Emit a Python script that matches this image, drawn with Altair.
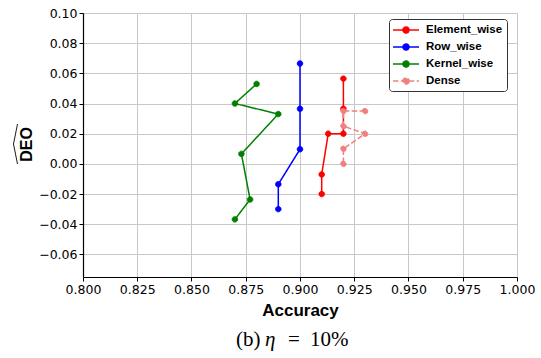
import altair as alt
import pandas as pd

# Series names and colours (legend order)
series_names = ["Element_wise", "Row_wise", "Kernel_wise", "Dense"]
series_colors = ["#ff0000", "#0000ff", "#008000", "#f08080"]
series_dash = [[1, 0], [1, 0], [1, 0], [5.5, 2.4]]

# Accuracy / DEO pairs for each pruning granularity
element_acc = [0.920, 0.920, 0.920, 0.913, 0.910, 0.910]
element_deo = [0.0565, 0.0365, 0.020, 0.020, -0.007, -0.020]

row_acc = [0.900, 0.900, 0.900, 0.890, 0.890]
row_deo = [0.0665, 0.0365, 0.0097, -0.0135, -0.030]

kernel_acc = [0.880, 0.870, 0.890, 0.873, 0.877, 0.870]
kernel_deo = [0.053, 0.040, 0.033, 0.0066, -0.0236, -0.0368]

dense_acc = [0.930, 0.920, 0.920, 0.930, 0.920, 0.920]
dense_deo = [0.035, 0.035, 0.025, 0.020, 0.010, 0.000]

x_ticks = [0.800, 0.825, 0.850, 0.875, 0.900, 0.925, 0.950, 0.975, 1.000]
y_ticks = [-0.06, -0.04, -0.02, 0.00, 0.02, 0.04, 0.06, 0.08, 0.10]

# Pixel outline of the wide hat drawn over the rotated "DEO" title
hat_px_x = [-65.5, -69.5, -65.5]
hat_px_y = [111.0, 131.0, 151.0]

rows = []
for name, accs, deos in [
    ("Element_wise", element_acc, element_deo),
    ("Row_wise", row_acc, row_deo),
    ("Kernel_wise", kernel_acc, kernel_deo),
    ("Dense", dense_acc, dense_deo),
]:
    for i, (a, d) in enumerate(zip(accs, deos)):
        rows.append({"series": name, "step": i, "acc": a, "deo": d})
df = pd.DataFrame(rows)

hat_df = pd.DataFrame({"hx": hat_px_x, "hy": hat_px_y, "k": [0, 1, 2]})

tick_style = dict(
    labelFont="DejaVu Sans", labelFontSize=12.5, labelColor="black",
    tickColor="black", tickSize=4, labelPadding=2, labelFlush=False,
    domainColor="black", domainWidth=1.2,
    gridColor="#c8c8c8", gridWidth=1,
)

x_enc = alt.X(
    "acc:Q",
    scale=alt.Scale(domain=[0.8, 1.0], nice=False, zero=False),
    axis=alt.Axis(
        values=x_ticks, format=".3f", title="Accuracy",
        titleFont="Liberation Sans", titleFontSize=17, titleFontWeight="bold",
        titleColor="black", titlePadding=7, **tick_style,
    ),
)
y_enc = alt.Y(
    "deo:Q",
    scale=alt.Scale(domain=[-0.075, 0.10], nice=False, zero=False),
    axis=alt.Axis(
        values=y_ticks, format=".2f", title="DEO",
        titleFont="Liberation Sans", titleFontSize=16, titleFontWeight="bold",
        titleColor="black", titleX=-56.5, titleY=131, titleAngle=270,
        titleAlign="center", titleBaseline="middle", **tick_style,
    ),
)

color_scale = alt.Scale(domain=series_names, range=series_colors)
dash_scale = alt.Scale(domain=series_names, range=series_dash)

# Legend glyph: a line segment with a dot in its middle (unit = 6 px)
legend_glyph = "M-2.17,0L2.17,0M0.5,0A0.5,0.5,0,1,1,-0.5,0A0.5,0.5,0,1,1,0.5,0Z"

legend = alt.Legend(
    title=None, orient="none", legendX=306, legendY=6,
    symbolType=legend_glyph, symbolSize=144, symbolStrokeWidth=1.5,
    symbolOffset=6,
    labelFont="Liberation Sans", labelFontSize=11.5, labelFontWeight="bold",
    labelColor="black", labelOffset=13, rowPadding=4,
    padding=4, fillColor="white", strokeColor="#333333", cornerRadius=3,
)

lines = alt.Chart(df).mark_line(strokeWidth=1.5).encode(
    x=x_enc,
    y=y_enc,
    stroke=alt.Stroke("series:N", scale=color_scale, legend=legend),
    strokeDash=alt.StrokeDash("series:N", scale=dash_scale, legend=legend),
    order="step:Q",
)

points = alt.Chart(df).mark_point(filled=True, size=30, opacity=1, strokeWidth=1).encode(
    x=x_enc,
    y=y_enc,
    fill=alt.Fill("series:N", scale=color_scale, legend=legend),
    stroke=alt.Stroke("series:N", scale=color_scale, legend=legend),
    strokeDash=alt.StrokeDash("series:N", scale=dash_scale, legend=legend),
)

hat = alt.Chart(hat_df).mark_line(color="black", strokeWidth=0.9, clip=False).encode(
    x=alt.X("hx:Q", scale=None, axis=None),
    y=alt.Y("hy:Q", scale=None, axis=None),
    order="k:Q",
)


# Caption under the panel: "(b) η = 10%" with an italic η
def caption_piece(text, x, align="left", style="normal"):
    return alt.Chart(pd.DataFrame({"t": [text]})).mark_text(
        font="Liberation Serif", fontSize=21, fontStyle=style, color="black",
        align=align, baseline="alphabetic",
    ).encode(text="t:N", x=alt.value(x), y=alt.value(333))


caption = [
    caption_piece("(b)", 153),
    caption_piece("η", 182, style="italic"),
    caption_piece("=", 211, align="center"),
    caption_piece("10%", 227),
]

chart = alt.layer(lines, points, hat, *caption).properties(
    width=434,
    height=264,
    autosize=alt.AutoSizeParams(type="none"),
    padding={"left": 83, "top": 13, "right": 24, "bottom": 81},
).configure_view(
    stroke="black", strokeWidth=1.2,
).configure(background="white")

chart.save("out.html", embed_options={"renderer": "svg", "actions": False})
